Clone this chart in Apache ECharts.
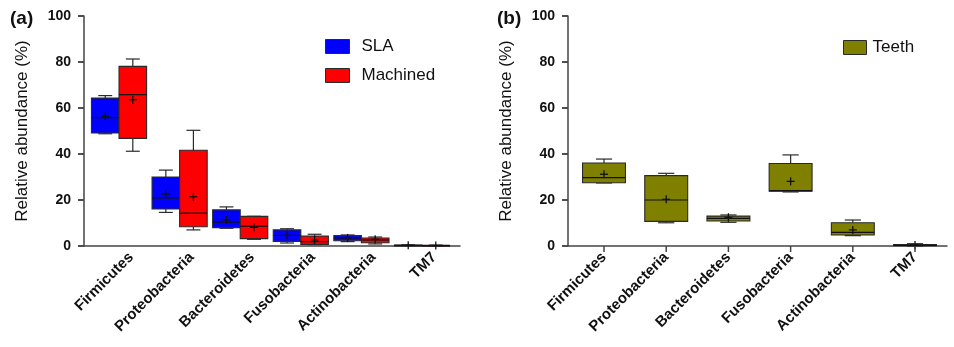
<!DOCTYPE html>
<html>
<head>
<meta charset="utf-8">
<script src="https://cdn.jsdelivr.net/npm/echarts@6/dist/echarts.min.js"></script>
<style>
html,body{margin:0;padding:0;background:#fff;}
#c{width:954px;height:347px;}
</style>
</head>
<body>
<div id="c"></div>
<script>
const categories = ['Firmicutes','Proteobacteria','Bacteroidetes','Fusobacteria','Actinobacteria','TM7'];
const yTicks = [0, 20, 40, 60, 80, 100];
// each row: [min, q1, median, q3, max, mean]
const slaStats = [
  [48.8, 49.1, 55.8, 64.3, 65.4, 56.4],
  [14.6, 16.1, 20.9, 30.0, 33.0, 22.6],
  [7.7, 8.0, 10.4, 15.7, 17.0, 11.3],
  [1.3, 2.0, 4.6, 7.0, 7.5, 4.6],
  [1.9, 2.3, 3.5, 4.5, 4.8, 3.5],
  [0.1, 0.2, 0.3, 0.4, 0.5, 0.3]
];
const machinedStats = [
  [41.2, 46.8, 65.8, 78.1, 81.3, 63.6],
  [7.0, 8.4, 14.3, 41.6, 50.3, 21.4],
  [2.9, 3.2, 8.6, 12.9, 12.9, 8.1],
  [0.6, 0.7, 1.9, 4.3, 5.1, 2.6],
  [0.9, 1.4, 2.6, 3.5, 3.9, 2.9],
  [0.1, 0.15, 0.2, 0.3, 0.4, 0.2]
];
const teethStats = [
  [27.4, 27.5, 29.7, 36.1, 37.8, 31.2],
  [10.1, 10.7, 20.0, 30.6, 31.6, 20.3],
  [10.3, 10.9, 12.0, 13.0, 13.5, 12.5],
  [23.5, 23.8, 24.1, 35.9, 39.6, 28.1],
  [4.5, 4.8, 5.9, 10.1, 11.3, 7.0],
  [0.0, 0.1, 0.3, 0.6, 1.0, 0.4]
];

const FONT = 'Liberation Sans, Arial, Helvetica, sans-serif';
const EDGE = '#2a2a2a';
const AXIS = '#444';

function makeRender(offset, boxW, capW, color) {
  return function (params, api) {
    const x = api.value(0);
    const mn = api.value(1), q1 = api.value(2), md = api.value(3),
          q3 = api.value(4), mx = api.value(5), mean = api.value(6);
    const cx = x + offset;
    const c = (px, py) => api.coord([px, py]);
    const pL = c(cx - boxW / 2, q3), pR = c(cx + boxW / 2, q1);
    const pC = c(cx, md);
    const capL = c(cx - capW / 2, mx)[0], capR = c(cx + capW / 2, mx)[0];
    const yMax = c(cx, mx)[1], yMin = c(cx, mn)[1];
    const pm = c(cx, mean);
    const ln = (x1, y1, x2, y2, w, col) => ({
      type: 'line', shape: {x1, y1, x2, y2},
      style: {stroke: col || EDGE, lineWidth: w || 1.2}
    });
    const h = Math.max(pR[1] - pL[1], 1);
    return {
      type: 'group',
      children: [
        ln(pC[0], pL[1], pC[0], yMax),
        ln(capL, yMax, capR, yMax),
        ln(pC[0], pR[1], pC[0], yMin),
        ln(capL, yMin, capR, yMin),
        {type: 'rect', shape: {x: pL[0], y: pL[1], width: pR[0] - pL[0], height: h},
         style: {fill: color, stroke: EDGE, lineWidth: 1.1}},
        ln(pL[0], pC[1], pR[0], pC[1], 1.2, '#111'),
        ln(pm[0] - 4, pm[1], pm[0] + 4, pm[1], 1.3, '#111'),
        ln(pm[0], pm[1] - 4, pm[0], pm[1] + 4, 1.3, '#111')
      ]
    };
  };
}

// outward tick marks, placed through the axes' scales
function yTickRender(params, api) {
  const p = api.coord([0, api.value(1)]);
  return {type: 'line', z2: 100, shape: {x1: p[0] - 6, y1: p[1], x2: p[0], y2: p[1]},
          style: {stroke: AXIS, lineWidth: 1.5}};
}
function xTickRender(params, api) {
  const p = api.coord([api.value(0), 0]);
  return {type: 'line', z2: 100, shape: {x1: p[0], y1: p[1], x2: p[0], y2: p[1] + 6},
          style: {stroke: AXIS, lineWidth: 1.5}};
}

// category centre positions on each (value-type) x axis, axis starts at 0
const leftStart = 0.578, rightStart = 0.579;
const toData = (stats, start) => categories.map((c, i) => [i + start].concat(stats[i]));

const yAxisCommon = {
  type: 'value', min: yTicks[0], max: yTicks[yTicks.length - 1], interval: yTicks[1] - yTicks[0],
  name: 'Relative abundance (%)', nameLocation: 'middle', nameGap: 53,
  nameTextStyle: {fontFamily: FONT, fontSize: 17, color: '#111'},
  axisLine: {show: true, lineStyle: {color: AXIS, width: 1.5}},
  axisTick: {show: true, inside: false, length: 6, lineStyle: {color: AXIS, width: 1.5}},
  axisLabel: {fontFamily: FONT, fontSize: 14, fontWeight: 'bold', color: '#111', margin: 13},
  splitLine: {show: false}
};

const labelShift = 0.2;
const option = {
  animation: false,
  backgroundColor: '#fff',
  title: [
    {text: '(a)', left: 10, top: 9, padding: 0, textStyle: {fontFamily: FONT, fontSize: 19, fontWeight: 'bold', color: '#111'}},
    {text: '(b)', left: 497, top: 9, padding: 0, textStyle: {fontFamily: FONT, fontSize: 19, fontWeight: 'bold', color: '#111'}}
  ],
  legend: [
    {data: ['SLA', 'Machined'], orient: 'vertical', left: 325, top: 38, padding: 0,
     icon: 'rect', itemWidth: 24, itemHeight: 14, itemGap: 12,
     itemStyle: {borderColor: EDGE, borderWidth: 1},
     textStyle: {fontFamily: FONT, fontSize: 17, color: '#111', padding: [0, 0, 0, 7]}},
    {data: ['Teeth'], orient: 'vertical', left: 843, top: 39, padding: 0,
     icon: 'rect', itemWidth: 23, itemHeight: 14,
     itemStyle: {borderColor: EDGE, borderWidth: 1},
     textStyle: {fontFamily: FONT, fontSize: 17, color: '#111', padding: [0, 0, 0, 1]}}
  ],
  grid: [
    {left: 84, right: 494, top: 16, bottom: 101},
    {left: 568, right: 7, top: 16, bottom: 101}
  ],
  xAxis: [
    {type: 'value', gridIndex: 0, min: 0, max: 6.205,
     axisLine: {show: true, onZero: false, lineStyle: {color: AXIS, width: 1.5}},
     axisTick: {show: false},
     splitLine: {show: false},
     axisLabel: {customValues: categories.map((c, i) => i + leftStart + labelShift), rotate: 45, margin: 9,
       fontFamily: FONT, fontSize: 15, fontWeight: 'bold', color: '#111',
       formatter: v => categories[Math.round(v - leftStart - labelShift)]}},
    {type: 'value', gridIndex: 1, min: 0, max: 6.093,
     axisLine: {show: true, onZero: false, lineStyle: {color: AXIS, width: 1.5}},
     axisTick: {show: false},
     splitLine: {show: false},
     axisLabel: {customValues: categories.map((c, i) => i + rightStart), rotate: 45, margin: 9,
       fontFamily: FONT, fontSize: 15, fontWeight: 'bold', color: '#111',
       formatter: v => categories[Math.round(v - rightStart)]}}
  ],
  yAxis: [
    Object.assign({gridIndex: 0}, yAxisCommon),
    Object.assign({gridIndex: 1}, yAxisCommon)
  ],
  series: [
    {name: 'SLA', type: 'custom', xAxisIndex: 0, yAxisIndex: 0, itemStyle: {color: '#0000ff'},
     renderItem: makeRender(-0.2275, 0.455, 0.23, '#0000ff'),
     encode: {x: 0, y: [1, 2, 3, 4, 5, 6]}, data: toData(slaStats, leftStart)},
    {name: 'Machined', type: 'custom', xAxisIndex: 0, yAxisIndex: 0, itemStyle: {color: '#ff0000'},
     renderItem: makeRender(0.2275, 0.455, 0.23, '#ff0000'),
     encode: {x: 0, y: [1, 2, 3, 4, 5, 6]}, data: toData(machinedStats, leftStart)},
    {name: 'Teeth', type: 'custom', xAxisIndex: 1, yAxisIndex: 1, itemStyle: {color: '#808000'},
     renderItem: makeRender(0, 0.69, 0.26, '#808000'),
     encode: {x: 0, y: [1, 2, 3, 4, 5, 6]}, data: toData(teethStats, rightStart)},
    {type: 'custom', xAxisIndex: 0, yAxisIndex: 0, silent: true, clip: false, z: 10,
     renderItem: yTickRender, encode: {x: 0, y: 1}, data: yTicks.map(v => [0, v])},
    {type: 'custom', xAxisIndex: 1, yAxisIndex: 1, silent: true, clip: false, z: 10,
     renderItem: yTickRender, encode: {x: 0, y: 1}, data: yTicks.map(v => [0, v])},
    {type: 'custom', xAxisIndex: 1, yAxisIndex: 1, silent: true, clip: false, z: 10,
     renderItem: xTickRender, encode: {x: 0, y: 1},
     data: categories.map((c, i) => [i + rightStart, 0])}
  ]
};
const chart = echarts.init(document.getElementById('c'), null, {renderer: 'canvas'});
chart.setOption(option);
</script>
</body>
</html>
